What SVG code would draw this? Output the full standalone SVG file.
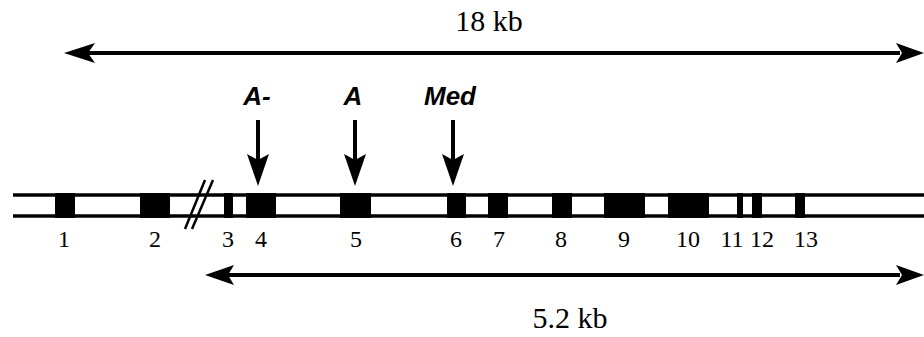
<svg xmlns="http://www.w3.org/2000/svg" width="924" height="337" viewBox="0 0 924 337">
<defs>
<style>
.num{font-family:"Liberation Serif","Times New Roman",serif;font-size:24px;fill:#000;text-anchor:middle}
.kb{font-family:"Liberation Serif","Times New Roman",serif;font-size:30px;fill:#000;text-anchor:middle}
.var{font-family:"Liberation Sans",Arial,sans-serif;font-size:26px;font-weight:bold;font-style:italic;fill:#000;text-anchor:middle}
.ln{stroke:#000;fill:none}
.exon{fill:#000}
</style>
</defs>
<rect width="924" height="337" fill="#fff"/>
<g id="gene">
<line class="ln" x1="13" y1="195" x2="924" y2="195" stroke-width="3.5"/>
<line class="ln" x1="13" y1="216" x2="924" y2="216" stroke-width="3.5"/>
<rect class="exon" x="55" y="193" width="20" height="25"/>
<rect class="exon" x="140" y="193" width="30" height="25"/>
<rect class="exon" x="224" y="193" width="9" height="25"/>
<rect class="exon" x="246" y="193" width="30" height="25"/>
<rect class="exon" x="340" y="193" width="31" height="25"/>
<rect class="exon" x="447" y="193" width="19" height="25"/>
<rect class="exon" x="488" y="193" width="20" height="25"/>
<rect class="exon" x="552" y="193" width="20" height="25"/>
<rect class="exon" x="604" y="193" width="41" height="25"/>
<rect class="exon" x="668" y="193" width="41" height="25"/>
<rect class="exon" x="737" y="193" width="6" height="25"/>
<rect class="exon" x="752" y="193" width="10" height="25"/>
<rect class="exon" x="795" y="193" width="10" height="25"/>
<line class="ln" x1="185" y1="229" x2="205" y2="180" stroke-width="2.5"/>
<line class="ln" x1="192" y1="229" x2="213" y2="180" stroke-width="2.5"/>
</g>
<g id="exon-labels">
<text class="num" x="64" y="247">1</text>
<text class="num" x="155" y="247">2</text>
<text class="num" x="228" y="247">3</text>
<text class="num" x="261" y="247">4</text>
<text class="num" x="356" y="247">5</text>
<text class="num" x="456" y="247">6</text>
<text class="num" x="499" y="247">7</text>
<text class="num" x="561" y="247">8</text>
<text class="num" x="624" y="247">9</text>
<text class="num" x="688" y="247">10</text>
<text class="num" x="732" y="247">11</text>
<text class="num" x="762" y="247">12</text>
<text class="num" x="806" y="247">13</text>
</g>
<g id="variants">
<text class="var" x="257" y="105">A-</text>
<text class="var" x="353" y="105">A</text>
<text class="var" x="450" y="105">Med</text>
</g>
<g id="connectors">
<g id="span-18kb">
<line class="ln" x1="88" y1="53" x2="900" y2="53" stroke-width="4"/>
<path d="M64 53 L95 43 L88 53 L95 63 Z" fill="#000"/>
<path d="M924 53 L896 43 L902 53 L896 63 Z" fill="#000"/>
</g>
<g id="span-5kb">
<line class="ln" x1="228" y1="275" x2="900" y2="275" stroke-width="4"/>
<path d="M205 275 L234 265 L228 275 L234 285 Z" fill="#000"/>
<path d="M924 275 L896 265 L902 275 L896 285 Z" fill="#000"/>
</g>
<g id="arrow-Aminus">
<line class="ln" x1="258" y1="120" x2="258" y2="160" stroke-width="4"/>
<path d="M258 186 L247 154 L258 160 L269 154 Z" fill="#000"/>
</g>
<g id="arrow-A">
<line class="ln" x1="355" y1="120" x2="355" y2="160" stroke-width="4"/>
<path d="M355 186 L344 154 L355 160 L366 154 Z" fill="#000"/>
</g>
<g id="arrow-Med">
<line class="ln" x1="453" y1="120" x2="453" y2="160" stroke-width="4"/>
<path d="M453 186 L442 154 L453 160 L464 154 Z" fill="#000"/>
</g>
</g>
<g id="scale-labels">
<text class="kb" x="489" y="31">18 kb</text>
<text class="kb" x="570" y="328">5.2 kb</text>
</g>
</svg>
